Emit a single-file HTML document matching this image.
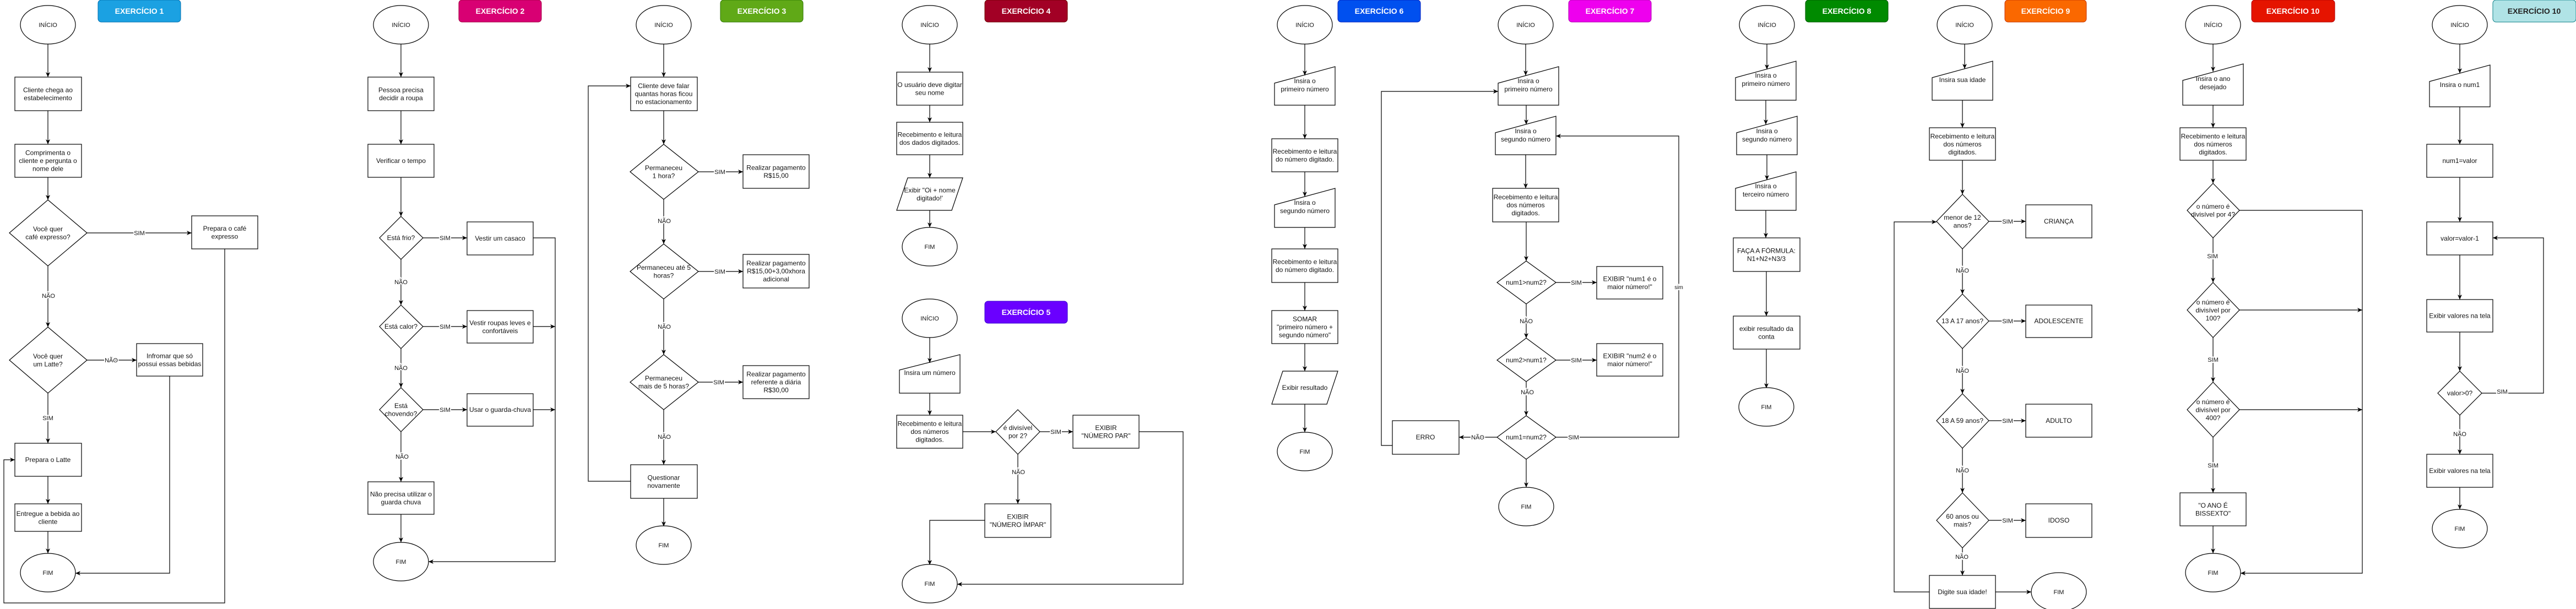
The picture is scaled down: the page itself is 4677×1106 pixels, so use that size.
<!DOCTYPE html>
<html><head><meta charset="utf-8"><style>
html,body{margin:0;padding:0;background:#fff;}
svg{display:block;}
text{font-family:"Liberation Sans",Arial,sans-serif;font-size:12px;fill:#111;text-anchor:middle;}
.s{fill:#fff;stroke:#000;stroke-width:1.2;}
.l{fill:none;stroke:#000;stroke-width:1.2;}
.a{fill:none;stroke:#000;stroke-width:1.2;marker-end:url(#ar);}
.t{font-weight:bold;font-size:14px;fill:#fff;}
.lb{font-size:11px;paint-order:stroke;stroke:#fff;stroke-width:4px;}
.e{font-size:11px;}
</style></head><body>
<svg width="4677" height="1106" viewBox="0 0 4677 1106" xmlns="http://www.w3.org/2000/svg">
<defs><marker id="ar" markerWidth="10" markerHeight="8" refX="9" refY="4" orient="auto" markerUnits="userSpaceOnUse"><path d="M0,0 L9,4 L0,8 L2.5,4 z" fill="#000"/></marker></defs>

<!-- EX1 -->
<rect x="178" y="0" width="150" height="40" rx="6" fill="#1BA1E2" stroke="#006EAF"/><text class="t" x="253" y="25">EXERCÍCIO 1</text>
<ellipse class="s" cx="87" cy="45" rx="50" ry="35"/><text class="e" x="87" y="49">INÍCIO</text>
<path class="a" d="M87,80V140"/>
<rect class="s" x="27" y="140" width="121" height="61"/><text x="87" y="167.5">Cliente chega ao<tspan x="87" dy="14.5">estabelecimento</tspan></text>
<path class="a" d="M87,201V262"/>
<rect class="s" x="27" y="262" width="121" height="60"/><text x="87" y="281.5">Comprimenta o<tspan x="87" dy="14.5">cliente e pergunta o</tspan><tspan x="87" dy="14.5">nome dele</tspan></text>
<path class="a" d="M87,322V363"/>
<polygon class="s" points="87,363 158,423 87,483 17,423"/><text x="87" y="420">Você quer<tspan x="87" dy="14.5">café expresso?</tspan></text>
<path class="a" d="M158,423H348"/><text class="lb" x="253" y="427">SIM</text>
<rect class="s" x="348" y="392" width="120" height="60"/><text x="408" y="419">Prepara o café<tspan x="408" dy="14.5">expresso</tspan></text>
<path class="a" d="M87,483V594"/><text class="lb" x="88" y="541">NÃO</text>
<polygon class="s" points="87,594 158,654 87,714 17,654"/><text x="87" y="651">Você quer<tspan x="87" dy="14.5">um Latte?</tspan></text>
<path class="a" d="M158,654H248"/><text class="lb" x="202" y="658">NÃO</text>
<rect class="s" x="248" y="624" width="120" height="59"/><text x="308" y="650.5">Infromar que só<tspan x="308" dy="14.5">possui essas bebidas</tspan></text>
<path class="a" d="M87,714V805"/><text class="lb" x="87" y="763">SIM</text>
<rect class="s" x="27" y="805" width="121" height="60"/><text x="87" y="839">Prepara o Latte</text>
<path class="a" d="M87,865V915"/>
<rect class="s" x="27" y="915" width="121" height="50"/><text x="87" y="937">Entregue a bebida ao<tspan x="87" dy="14.5">cliente</tspan></text>
<path class="a" d="M87,965V1005"/>
<ellipse class="s" cx="87" cy="1040" rx="50" ry="35"/><text class="e" x="87" y="1044">FIM</text>
<path class="a" d="M308,683V1041H137"/>
<path class="a" d="M408,452V1095H7V835H27"/>

<!-- EX2 -->
<rect x="833" y="0" width="150" height="40" rx="6" fill="#D80073" stroke="#A50040"/><text class="t" x="908" y="25">EXERCÍCIO 2</text>
<ellipse class="s" cx="728" cy="45" rx="50" ry="35"/><text class="e" x="728" y="49">INÍCIO</text>
<path class="a" d="M728,80V140"/>
<rect class="s" x="668" y="140" width="120" height="61"/><text x="728" y="167.5">Pessoa precisa<tspan x="728" dy="14.5">decidir a roupa</tspan></text>
<path class="a" d="M728,201V262"/>
<rect class="s" x="668" y="262" width="120" height="60"/><text x="728" y="296">Verificar o tempo</text>
<path class="a" d="M728,322V393"/>
<polygon class="s" points="728,393 768,432 728,471 689,432"/><text x="728" y="436">Está frio?</text>
<path class="a" d="M768,432H848"/><text class="lb" x="808" y="436">SIM</text>
<rect class="s" x="848" y="403" width="120" height="60"/><text x="908" y="437">Vestir um casaco</text>
<path class="a" d="M728,471V554"/><text class="lb" x="728" y="516">NÃO</text>
<polygon class="s" points="728,554 768,593 728,633 689,593"/><text x="728" y="597">Está calor?</text>
<path class="a" d="M768,593H848"/><text class="lb" x="808" y="597">SIM</text>
<rect class="s" x="848" y="564" width="120" height="59"/><text x="908" y="590.5">Vestir roupas leves e<tspan x="908" dy="14.5">confortáveis</tspan></text>
<path class="a" d="M728,633V704"/><text class="lb" x="728" y="672">NÃO</text>
<polygon class="s" points="728,704 768,744 728,784 689,744"/><text x="728" y="741">Está<tspan x="728" dy="14.5">chovendo?</tspan></text>
<path class="a" d="M768,744H848"/><text class="lb" x="808" y="748">SIM</text>
<rect class="s" x="848" y="715" width="120" height="59"/><text x="908" y="748">Usar o guarda-chuva</text>
<path class="a" d="M728,784V875"/><text class="lb" x="730" y="833">NÃO</text>
<rect class="s" x="668" y="875" width="120" height="59"/><text x="728" y="901.5">Não precisa utilizar o<tspan x="728" dy="14.5">guarda chuva</tspan></text>
<path class="a" d="M728,934V985"/>
<ellipse class="s" cx="728" cy="1020" rx="50" ry="35"/><text class="e" x="728" y="1024">FIM</text>
<path class="a" d="M968,432H1008V1020H778"/>
<path class="a" d="M968,593H1008"/><path class="a" d="M968,744H1008"/>

<!-- EX3 -->
<rect x="1308" y="0" width="150" height="40" rx="6" fill="#60A917" stroke="#2D7600"/><text class="t" x="1383" y="25">EXERCÍCIO 3</text>
<ellipse class="s" cx="1205" cy="45" rx="50" ry="35"/><text class="e" x="1205" y="49">INÍCIO</text>
<path class="a" d="M1205,80V140"/>
<rect class="s" x="1145" y="140" width="121" height="61"/><text x="1205" y="160">Cliente deve falar<tspan x="1205" dy="14.5">quantas horas ficou</tspan><tspan x="1205" dy="14.5">no estacionamento</tspan></text>
<path class="a" d="M1205,201V262"/>
<polygon class="s" points="1205,262 1268,312 1205,362 1144,312"/><text x="1205" y="309">Permaneceu<tspan x="1205" dy="14.5">1 hora?</tspan></text>
<path class="a" d="M1268,312H1349"/><text class="lb" x="1307" y="316">SIM</text>
<rect class="s" x="1349" y="281" width="120" height="61"/><text x="1409" y="308.5">Realizar pagamento<tspan x="1409" dy="14.5">R$15,00</tspan></text>
<path class="a" d="M1205,362V443"/><text class="lb" x="1206" y="405">NÃO</text>
<polygon class="s" points="1205,443 1268,493 1205,543 1144,493"/><text x="1205" y="490">Permaneceu até 5<tspan x="1205" dy="14.5">horas?</tspan></text>
<path class="a" d="M1268,493H1349"/><text class="lb" x="1307" y="497">SIM</text>
<rect class="s" x="1349" y="462" width="120" height="61"/><text x="1409" y="482">Realizar pagamento<tspan x="1409" dy="14.5">R$15,00+3,00xhora</tspan><tspan x="1409" dy="14.5">adicional</tspan></text>
<path class="a" d="M1205,543V644"/><text class="lb" x="1206" y="597">NÃO</text>
<polygon class="s" points="1205,644 1268,694 1205,744 1144,694"/><text x="1205" y="691">Permaneceu<tspan x="1205" dy="14.5">mais de 5 horas?</tspan></text>
<path class="a" d="M1268,694H1349"/><text class="lb" x="1305" y="698">SIM</text>
<rect class="s" x="1349" y="664" width="120" height="60"/><text x="1409" y="683.5">Realizar pagamento<tspan x="1409" dy="14.5">referente a diária</tspan><tspan x="1409" dy="14.5">R$30,00</tspan></text>
<path class="a" d="M1205,744V844"/><text class="lb" x="1206" y="797">NÃO</text>
<rect class="s" x="1145" y="844" width="121" height="61"/><text x="1205" y="871.5">Questionar<tspan x="1205" dy="14.5">novamente</tspan></text>
<path class="a" d="M1205,905V956"/>
<ellipse class="s" cx="1205" cy="990" rx="50" ry="35"/><text class="e" x="1205" y="994">FIM</text>
<path class="a" d="M1145,874H1068V156H1145"/>

<!-- EX4 -->
<rect x="1788" y="0" width="150" height="40" rx="6" fill="#A20025" stroke="#6F0000"/><text class="t" x="1863" y="25">EXERCÍCIO 4</text>
<ellipse class="s" cx="1688" cy="45" rx="50" ry="35"/><text class="e" x="1688" y="49">INÍCIO</text>
<path class="a" d="M1688,80V131"/>
<rect class="s" x="1628" y="131" width="120" height="60"/><text x="1688" y="158">O usuário deve digitar<tspan x="1688" dy="14.5">seu nome</tspan></text>
<path class="a" d="M1688,191V222"/>
<rect class="s" x="1628" y="222" width="120" height="59"/><text x="1688" y="248.5">Recebimento e leitura<tspan x="1688" dy="14.5">dos dados digitados.</tspan></text>
<path class="a" d="M1688,281V323"/>
<polygon class="s" points="1648,323 1748,323 1728,382 1628,382"/><text x="1688" y="349.5">Exibir "Oi + nome<tspan x="1688" dy="14.5">digitado!'</tspan></text>
<path class="a" d="M1688,382V413"/>
<ellipse class="s" cx="1688" cy="448" rx="50" ry="35"/><text class="e" x="1688" y="452">FIM</text>

<!-- EX5 -->
<rect x="1788" y="547" width="150" height="40" rx="6" fill="#6A00FF" stroke="#3700CC"/><text class="t" x="1863" y="572">EXERCÍCIO 5</text>
<ellipse class="s" cx="1688" cy="578" rx="50" ry="35"/><text class="e" x="1688" y="582">INÍCIO</text>
<polygon class="s" points="1633,672 1743,644 1743,714 1633,714"/><text x="1688" y="681">Insira um número</text>
<path class="a" d="M1688,613V659"/>
<path class="a" d="M1688,714V754"/>
<rect class="s" x="1628" y="754" width="120" height="60"/><text x="1688" y="773.5">Recebimento e leitura<tspan x="1688" dy="14.5">dos números</tspan><tspan x="1688" dy="14.5">digitados.</tspan></text>
<path class="a" d="M1748,784H1808"/>
<polygon class="s" points="1848,744 1888,784 1848,825 1808,784"/><text x="1848" y="781">é divisível<tspan x="1848" dy="14.5">por 2?</tspan></text>
<path class="a" d="M1888,784H1948"/><text class="lb" x="1917" y="788">SIM</text>
<rect class="s" x="1948" y="754" width="120" height="60"/><text x="2008" y="781">EXIBIR<tspan x="2008" dy="14.5">"NÚMERO PAR"</tspan></text>
<path class="a" d="M1848,825V915"/><text class="lb" x="1849" y="861">NÃO</text>
<rect class="s" x="1788" y="915" width="120" height="61"/><text x="1848" y="942.5">EXIBIR<tspan x="1848" dy="14.5">"NÚMERO ÍMPAR"</tspan></text>
<path class="a" d="M1788,945H1688V1026"/>
<ellipse class="s" cx="1688" cy="1060" rx="50" ry="35"/><text class="e" x="1688" y="1064">FIM</text>
<path class="a" d="M2068,784H2148V1061H1738"/>

<!-- EX6 -->
<rect x="2429" y="0" width="150" height="40" rx="6" fill="#0050EF" stroke="#001DBC"/><text class="t" x="2504" y="25">EXERCÍCIO 6</text>
<ellipse class="s" cx="2369" cy="45" rx="50" ry="35"/><text class="e" x="2369" y="49">INÍCIO</text>
<polygon class="s" points="2314,151 2424,121 2424,191 2314,191"/><text x="2369" y="151">Insira o<tspan x="2369" dy="15">primeiro número</tspan></text>
<path class="a" d="M2369,80V137"/>
<path class="a" d="M2369,191V252"/>
<rect class="s" x="2309" y="252" width="120" height="60"/><text x="2369" y="279">Recebimento e leitura<tspan x="2369" dy="14.5">do número digitado.</tspan></text>
<polygon class="s" points="2314,372 2424,342 2424,413 2314,413"/><text x="2369" y="372">Insira o<tspan x="2369" dy="15">segundo número</tspan></text>
<path class="a" d="M2369,312V357"/>
<path class="a" d="M2369,413V452"/>
<rect class="s" x="2309" y="452" width="120" height="61"/><text x="2369" y="479.5">Recebimento e leitura<tspan x="2369" dy="14.5">do número digitado.</tspan></text>
<path class="a" d="M2369,513V564"/>
<rect class="s" x="2309" y="564" width="120" height="60"/><text x="2369" y="583.5">SOMAR<tspan x="2369" dy="14.5">"primeiro número +</tspan><tspan x="2369" dy="14.5">segundo número"</tspan></text>
<path class="a" d="M2369,624V674"/>
<polygon class="s" points="2329,674 2429,674 2409,734 2309,734"/><text x="2369" y="708">Exibir resultado</text>
<path class="a" d="M2369,734V785"/>
<ellipse class="s" cx="2369" cy="820" rx="50" ry="35"/><text class="e" x="2369" y="824">FIM</text>

<!-- EX7 -->
<rect class="s" x="2528" y="764" width="121" height="61"/><text x="2588" y="798">ERRO</text>
<path class="a" d="M2528,809H2508V166H2720"/>
<rect x="2848" y="0" width="150" height="40" rx="6" fill="#EE00EE" stroke="#B000B0"/><text class="t" x="2923" y="25">EXERCÍCIO 7</text>
<ellipse class="s" cx="2770" cy="45" rx="50" ry="35"/><text class="e" x="2770" y="49">INÍCIO</text>
<polygon class="s" points="2720,151 2830,121 2830,191 2720,191"/><text x="2775" y="151">Insira o<tspan x="2775" dy="15">primeiro número</tspan></text>
<path class="a" d="M2770,80V137"/>
<polygon class="s" points="2715,241 2825,211 2825,281 2715,281"/><text x="2770" y="242">Insira o<tspan x="2770" dy="15">segundo número</tspan></text>
<path class="a" d="M2771,191V226"/>
<path class="a" d="M2770,281V342"/>
<rect class="s" x="2710" y="342" width="120" height="61"/><text x="2770" y="362">Recebimento e leitura<tspan x="2770" dy="14.5">dos números</tspan><tspan x="2770" dy="14.5">digitados.</tspan></text>
<path class="a" d="M2771,403V474"/>
<polygon class="s" points="2771,474 2825,513 2771,552 2718,513"/><text x="2771" y="517">num1&gt;num2?</text>
<path class="a" d="M2825,513H2899"/><text class="lb" x="2862" y="517">SIM</text>
<rect class="s" x="2899" y="484" width="120" height="59"/><text x="2959" y="510.5">EXIBIR "num1 é o<tspan x="2959" dy="14.5">maior número!"</tspan></text>
<path class="a" d="M2771,552V614"/><text class="lb" x="2771" y="587">NÃO</text>
<polygon class="s" points="2771,614 2825,654 2771,693 2718,654"/><text x="2771" y="658">num2&gt;num1?</text>
<path class="a" d="M2825,654H2899"/><text class="lb" x="2862" y="658">SIM</text>
<rect class="s" x="2899" y="624" width="120" height="59"/><text x="2959" y="650.5">EXIBIR "num2 é o<tspan x="2959" dy="14.5">maior número!"</tspan></text>
<path class="a" d="M2771,693V755"/><text class="lb" x="2773" y="716">NÃO</text>
<polygon class="s" points="2771,755 2825,794 2771,834 2718,794"/><text x="2771" y="798">num1=num2?</text>
<path class="a" d="M2718,794H2649"/><text class="lb" x="2683" y="798">NÃO</text>
<path class="a" d="M2825,794H3048V247H2825"/><text class="lb" x="2857" y="798">SIM</text><text class="lb" x="3048" y="525" style="font-size:10px">sim</text>
<path class="a" d="M2771,834V885"/>
<ellipse class="s" cx="2771" cy="920" rx="50" ry="35"/><text class="e" x="2771" y="924">FIM</text>

<!-- EX8 -->
<rect x="3278" y="0" width="150" height="40" rx="6" fill="#008A00" stroke="#005700"/><text class="t" x="3353" y="25">EXERCÍCIO 8</text>
<ellipse class="s" cx="3208" cy="45" rx="50" ry="35"/><text class="e" x="3208" y="49">INÍCIO</text>
<polygon class="s" points="3151,141 3261,111 3261,182 3151,182"/><text x="3206" y="141">Insira o<tspan x="3206" dy="15">primeiro número</tspan></text>
<path class="a" d="M3208,80V126"/>
<polygon class="s" points="3153,241 3263,211 3263,281 3153,281"/><text x="3208" y="242">Insira o<tspan x="3208" dy="15">segundo número</tspan></text>
<path class="a" d="M3206,182V226"/>
<polygon class="s" points="3151,342 3261,312 3261,382 3151,382"/><text x="3206" y="342">Insira o<tspan x="3206" dy="15">terceiro número</tspan></text>
<path class="a" d="M3208,281V327"/>
<path class="a" d="M3206,382V432"/>
<rect class="s" x="3147" y="432" width="121" height="61"/><text x="3207" y="459.5">FAÇA A FÓRMULA:<tspan x="3207" dy="14.5">N1+N2+N3/3</tspan></text>
<path class="a" d="M3207,493V574"/>
<rect class="s" x="3147" y="574" width="121" height="60"/><text x="3207" y="601">exibir resultado da<tspan x="3207" dy="14.5">conta</tspan></text>
<path class="a" d="M3207,634V705"/>
<ellipse class="s" cx="3207" cy="739" rx="50" ry="35"/><text class="e" x="3207" y="743">FIM</text>

<!-- EX9 -->
<rect x="3640" y="0" width="148" height="40" rx="6" fill="#FA6800" stroke="#C73500"/><text class="t" x="3714" y="25">EXERCÍCIO 9</text>
<ellipse class="s" cx="3567" cy="45" rx="50" ry="35"/><text class="e" x="3567" y="49">INÍCIO</text>
<polygon class="s" points="3508,141 3618,111 3618,182 3508,182"/><text x="3563" y="149">Insira sua idade</text>
<path class="a" d="M3567,80V125"/>
<path class="a" d="M3563,182V232"/>
<rect class="s" x="3503" y="232" width="120" height="59"/><text x="3563" y="251.5">Recebimento e leitura<tspan x="3563" dy="14.5">dos números</tspan><tspan x="3563" dy="14.5">digitados.</tspan></text>
<path class="a" d="M3563,291V353"/>
<polygon class="s" points="3563,353 3611,402 3563,452 3516,402"/><text x="3563" y="399">menor de 12<tspan x="3563" dy="14.5">anos?</tspan></text>
<path class="a" d="M3611,402H3678"/><text class="lb" x="3645" y="406">SIM</text>
<rect class="s" x="3678" y="372" width="120" height="60"/><text x="3738" y="406">CRIANÇA</text>
<path class="a" d="M3563,452V534"/><text class="lb" x="3563" y="495">NÃO</text>
<polygon class="s" points="3563,534 3611,583 3563,633 3516,583"/><text x="3563" y="587">13 A 17 anos?</text>
<path class="a" d="M3611,583H3678"/><text class="lb" x="3645" y="587">SIM</text>
<rect class="s" x="3678" y="554" width="120" height="59"/><text x="3738" y="587">ADOLESCENTE</text>
<path class="a" d="M3563,633V715"/><text class="lb" x="3563" y="677">NÃO</text>
<polygon class="s" points="3563,715 3611,764 3563,814 3516,764"/><text x="3563" y="768">18 A 59 anos?</text>
<path class="a" d="M3611,764H3678"/><text class="lb" x="3645" y="768">SIM</text>
<rect class="s" x="3678" y="734" width="120" height="60"/><text x="3738" y="768">ADULTO</text>
<path class="a" d="M3563,814V895"/><text class="lb" x="3563" y="858">NÃO</text>
<polygon class="s" points="3563,895 3611,945 3563,995 3516,945"/><text x="3563" y="942">60 anos ou<tspan x="3563" dy="14.5">mais?</tspan></text>
<path class="a" d="M3611,945H3678"/><text class="lb" x="3645" y="949">SIM</text>
<rect class="s" x="3678" y="915" width="120" height="61"/><text x="3738" y="949">IDOSO</text>
<path class="a" d="M3563,995V1045"/><text class="lb" x="3562" y="1015">NÃO</text>
<rect class="s" x="3503" y="1045" width="120" height="60"/><text x="3563" y="1079">Digite sua idade!</text>
<path class="a" d="M3503,1075H3439V403H3516"/>
<path class="a" d="M3623,1075H3688"/>
<ellipse class="s" cx="3738" cy="1075" rx="50" ry="35"/><text class="e" x="3738" y="1079">FIM</text>

<!-- EX10 red -->
<rect x="4088" y="0" width="151" height="40" rx="6" fill="#E51400" stroke="#B20000"/><text class="t" x="4163" y="25">EXERCÍCIO 10</text>
<ellipse class="s" cx="4018" cy="45" rx="50" ry="35"/><text class="e" x="4018" y="49">INÍCIO</text>
<polygon class="s" points="3963,146 4073,116 4073,191 3963,191"/><text x="4018" y="147">Insira o ano<tspan x="4018" dy="15">desejado</tspan></text>
<path class="a" d="M4018,80V130"/>
<path class="a" d="M4018,191V232"/>
<rect class="s" x="3958" y="232" width="120" height="59"/><text x="4018" y="251.5">Recebimento e leitura<tspan x="4018" dy="14.5">dos números</tspan><tspan x="4018" dy="14.5">digitados.</tspan></text>
<path class="a" d="M4018,291V333"/>
<polygon class="s" points="4018,333 4066,382 4018,432 3971,382"/><text x="4018" y="379">o número é<tspan x="4018" dy="14.5">divisível por 4?</tspan></text>
<path class="a" d="M4066,382H4289V1041H4068"/>
<path class="a" d="M4018,432V513"/><text class="lb" x="4017" y="469">SIM</text>
<polygon class="s" points="4018,513 4066,563 4018,613 3971,563"/><text x="4018" y="553">o número é<tspan x="4018" dy="14.5">divisível por</tspan><tspan x="4018" dy="14.5">100?</tspan></text>
<path class="a" d="M4066,563H4289"/>
<path class="a" d="M4018,613V694"/><text class="lb" x="4018" y="657">SIM</text>
<polygon class="s" points="4018,694 4066,744 4018,794 3971,744"/><text x="4018" y="734">o número é<tspan x="4018" dy="14.5">divisível por</tspan><tspan x="4018" dy="14.5">400?</tspan></text>
<path class="a" d="M4066,744H4289"/>
<path class="a" d="M4018,794V895"/><text class="lb" x="4018" y="849">SIM</text>
<rect class="s" x="3958" y="895" width="120" height="60"/><text x="4018" y="922">"O ANO É<tspan x="4018" dy="14.5">BISSEXTO"</tspan></text>
<path class="a" d="M4018,955V1005"/>
<ellipse class="s" cx="4018" cy="1040" rx="50" ry="35"/><text class="e" x="4018" y="1044">FIM</text>

<!-- EX10 cyan -->
<rect x="4526" y="0" width="151" height="40" rx="6" fill="#B0E3E6" stroke="#0E8088"/><text class="t" x="4601" y="25" style="fill:#222">EXERCÍCIO 10</text>
<ellipse class="s" cx="4466" cy="45" rx="50" ry="35"/><text class="e" x="4466" y="49">INÍCIO</text>
<polygon class="s" points="4411,148 4521,118 4521,194 4411,194"/><text x="4466" y="158">Insira o num1</text>
<path class="a" d="M4466,80V133"/>
<path class="a" d="M4466,194V262"/>
<rect class="s" x="4406" y="262" width="120" height="60"/><text x="4466" y="296">num1=valor</text>
<path class="a" d="M4466,322V403"/>
<rect class="s" x="4406" y="403" width="120" height="60"/><text x="4466" y="437">valor=valor-1</text>
<path class="a" d="M4466,463V544"/>
<rect class="s" x="4406" y="544" width="120" height="59"/><text x="4466" y="577.5">Exibir valores na tela</text>
<path class="a" d="M4466,603V674"/>
<polygon class="s" points="4466,674 4506,714 4466,754 4426,714"/><text x="4466" y="718">valor&gt;0?</text>
<path class="a" d="M4506,714H4618V432H4526"/><text class="lb" x="4543" y="715">SIM</text>
<path class="a" d="M4466,754V825"/><text class="lb" x="4466" y="792">NÃO</text>
<rect class="s" x="4406" y="825" width="120" height="60"/><text x="4466" y="859">Exibir valores na tela</text>
<path class="a" d="M4466,885V925"/>
<ellipse class="s" cx="4466" cy="960" rx="50" ry="35"/><text class="e" x="4466" y="964">FIM</text>
</svg>
</body></html>
